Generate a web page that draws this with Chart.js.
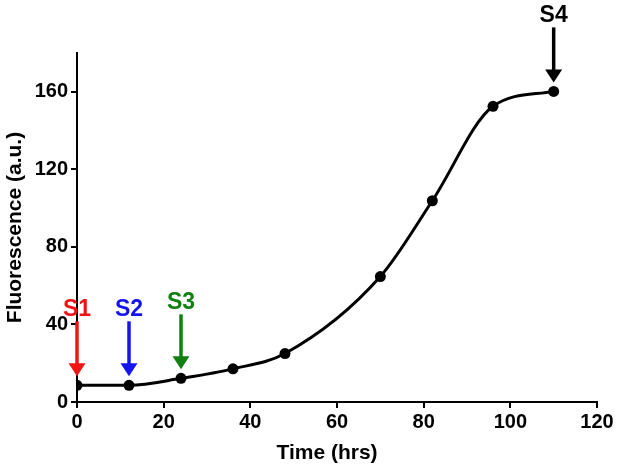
<!DOCTYPE html>
<html>
<head>
<meta charset="utf-8">
<script src="https://cdn.jsdelivr.net/npm/chart.js@4/dist/chart.umd.min.js"></script>
<style>
  html, body { margin: 0; padding: 0; background: #fff; }
  #wrap { width: 617px; height: 470px; }
</style>
</head>
<body>
<div id="wrap"><canvas id="c" width="617" height="470"></canvas></div>
<script>
// ---- data ----
const timeHrs = [0, 12, 24, 36, 48, 70, 82, 96, 110];
const fluorescence = [8.6, 8.6, 12.2, 17.1, 25, 64.7, 103.8, 152.5, 160.2];
const xTickValues = [0, 20, 40, 60, 80, 100, 120];
const yTickValues = [0, 40, 80, 120, 160];
const markerTimes = [0, 12, 24, 110];
const markerLabels = ['S1', 'S2', 'S3', 'S4'];
const xTitle = 'Time (hrs)';
const yTitle = 'Fluorescence (a.u.)';

const FONT = '"Liberation Sans", Arial, sans-serif';
const markerColors = ['#f01414', '#1414f0', '#108010', '#000000'];

const arrowPlugin = {
  id: 'arrows',
  afterDatasetsDraw(chart) {
    const ctx = chart.ctx;
    const xs = chart.scales.x, ys = chart.scales.y;
    ctx.save();
    markerTimes.forEach((t, i) => {
      const idx = timeHrs.indexOf(t);
      const px = xs.getPixelForValue(t);
      const py = ys.getPixelForValue(fluorescence[idx]);
      const tip = py - 9;
      const tail = tip - 55;
      const headLen = 13, headHalf = 8.5;
      ctx.strokeStyle = markerColors[i];
      ctx.fillStyle = markerColors[i];
      ctx.lineWidth = 3.5;
      ctx.beginPath();
      ctx.moveTo(px, tail);
      ctx.lineTo(px, tip - headLen + 1);
      ctx.stroke();
      ctx.beginPath();
      ctx.moveTo(px - headHalf, tip - headLen);
      ctx.lineTo(px + headHalf, tip - headLen);
      ctx.lineTo(px, tip);
      ctx.closePath();
      ctx.fill();
      ctx.font = 'bold 23px ' + FONT;
      ctx.textAlign = 'center';
      ctx.textBaseline = 'middle';
      ctx.fillText(markerLabels[i], px, tail - 12);
    });
    // x-axis title (slightly left of axis centre, as in the original)
    const ca = chart.chartArea;
    ctx.fillStyle = '#000';
    ctx.font = 'bold 21px ' + FONT;
    ctx.textAlign = 'center';
    ctx.textBaseline = 'middle';
    ctx.fillText(xTitle, (ca.left + ca.right) / 2 - 10, 453);
    ctx.restore();
  }
};

new Chart(document.getElementById('c'), {
  type: 'line',
  data: {
    datasets: [{
      data: timeHrs.map((t, i) => ({ x: t, y: fluorescence[i] })),
      borderColor: '#000',
      backgroundColor: '#000',
      borderWidth: 3,
      pointRadius: 5.5,
      pointBackgroundColor: '#000',
      pointBorderWidth: 0,
      cubicInterpolationMode: 'monotone',
      fill: false
    }]
  },
  options: {
    responsive: false,
    animation: false,
    devicePixelRatio: 1,
    layout: { padding: { top: 53, right: 20, left: 0, bottom: 0 } },
    plugins: { legend: { display: false }, tooltip: { enabled: false } },
    scales: {
      x: {
        type: 'linear',
        min: 0, max: 120,
        afterBuildTicks: s => { s.ticks = xTickValues.map(v => ({ value: v })); },
        afterFit: s => { s.height = 68; },
        border: { display: true, color: '#000', width: 2 },
        grid: { display: true, drawOnChartArea: false, color: '#000', lineWidth: 2, tickLength: 6 },
        ticks: { color: '#000', font: { family: FONT, size: 20, weight: 'bold' }, padding: 2, maxRotation: 0 },
        title: { display: false }
      },
      y: {
        type: 'linear',
        min: 0, max: 180,
        afterBuildTicks: s => { s.ticks = yTickValues.map(v => ({ value: v })); },
        afterFit: s => { s.width = 77; },
        border: { display: true, color: '#000', width: 2 },
        grid: { display: true, drawOnChartArea: false, color: '#000', lineWidth: 2, tickLength: 6 },
        ticks: { color: '#000', font: { family: FONT, size: 20, weight: 'bold' }, padding: 3 },
        title: { display: true, text: yTitle, color: '#000', font: { family: FONT, size: 21, weight: 'bold' }, padding: { top: 3, bottom: 3 } }
      }
    }
  },
  plugins: [arrowPlugin]
});
</script>
</body>
</html>
